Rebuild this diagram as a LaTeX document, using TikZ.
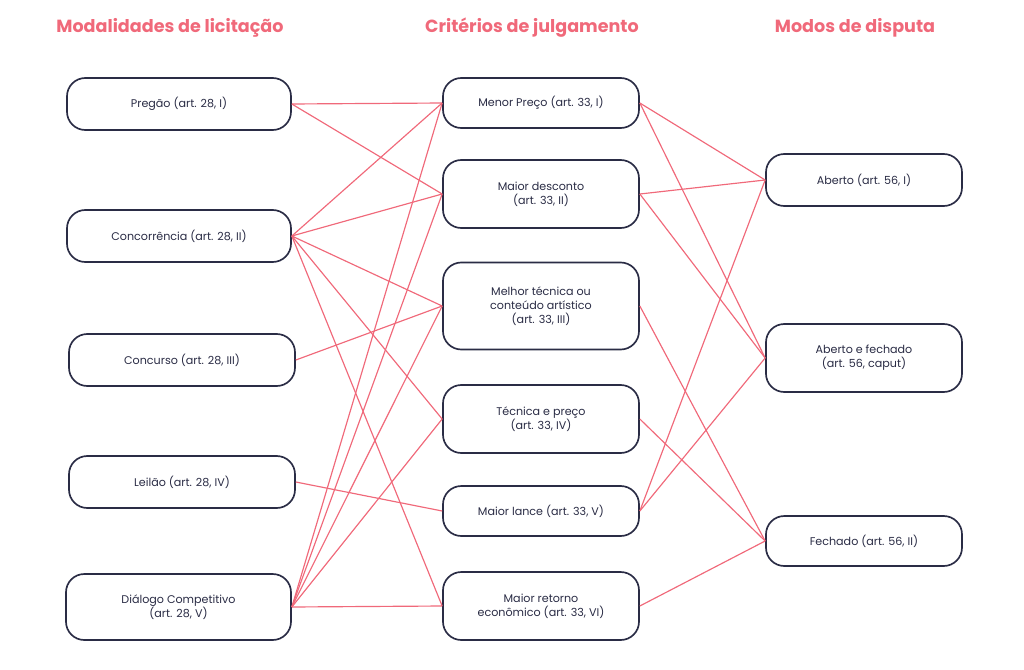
\documentclass[tikz,border=0pt]{standalone}
\usepackage{fontspec}
\setmainfont{Poppins}
\definecolor{pk}{HTML}{F0697A}
\definecolor{nv}{HTML}{2A2C45}
\begin{document}
\begin{tikzpicture}[x=0.03cm,y=-0.03cm,
  box/.style={draw=nv,line width=0.05cm,rounded corners=0.55cm,fill=white,align=center,font=\fontsize{9.5}{12}\selectfont,text=nv,inner sep=0pt},
  hd/.style={text=pk,font=\fontsize{15}{18}\selectfont\bfseries},
  ln/.style={pk,line width=0.035cm}]
\useasboundingbox (0,0) rectangle (1024,670);
\node[hd] (h1) at (170,28) {Modalidades de licitação};
\node[hd] (h2) at (532,28) {Critérios de julgamento};
\node[hd] (h3) at (855,28) {Modos de disputa};
\node[box,minimum width=6.72cm,minimum height=1.56cm] (l1) at (179,104) {Pregão (art. 28, I)};
\node[box,minimum width=6.72cm,minimum height=1.56cm] (l2) at (179,236) {Concorrência (art. 28, II)};
\node[box,minimum width=6.78cm,minimum height=1.56cm] (l3) at (182,360) {Concurso (art. 28, III)};
\node[box,minimum width=6.78cm,minimum height=1.56cm] (l4) at (182,482) {Leilão (art. 28, IV)};
\node[box,minimum width=6.75cm,minimum height=1.98cm] (l5) at (178.5,607) {Diálogo Competitivo\\(art. 28, V)};
\node[box,minimum width=5.88cm,minimum height=1.5cm] (m1) at (541,103) {Menor Preço (art. 33, I)};
\node[box,minimum width=5.88cm,minimum height=2.04cm] (m2) at (541,194) {Maior desconto\\(art. 33, II)};
\node[box,minimum width=5.88cm,minimum height=2.61cm] (m3) at (541,306) {Melhor técnica ou\\conteúdo artístico\\(art. 33, III)};
\node[box,minimum width=5.88cm,minimum height=2.04cm] (m4) at (541,419) {Técnica e preço\\(art. 33, IV)};
\node[box,minimum width=5.88cm,minimum height=1.5cm] (m5) at (541,511) {Maior lance (art. 33, V)};
\node[box,minimum width=5.88cm,minimum height=2.04cm] (m6) at (541,606) {Maior retorno\\econômico (art. 33, VI)};
\node[box,minimum width=5.88cm,minimum height=1.56cm] (r1) at (864,180) {Aberto (art. 56, I)};
\node[box,minimum width=5.88cm,minimum height=2.04cm] (r2) at (864,358) {Aberto e fechado\\(art. 56, caput)};
\node[box,minimum width=5.88cm,minimum height=1.5cm] (r3) at (864,541) {Fechado (art. 56, II)};
\begin{scope}[on background layer/.style={}]
\end{scope}
\begin{pgfinterruptboundingbox}\end{pgfinterruptboundingbox}
\foreach \a/\b in {l1/m1,l1/m2,l2/m1,l2/m2,l2/m3,l2/m4,l2/m6,l3/m3,l4/m5,l5/m1,l5/m2,l5/m3,l5/m4,l5/m6,m1/r1,m1/r2,m2/r1,m2/r2,m3/r3,m4/r3,m5/r1,m5/r2,m6/r3}
  \draw[ln] (\a.east) -- (\b.west);
\end{tikzpicture}
\end{document}
